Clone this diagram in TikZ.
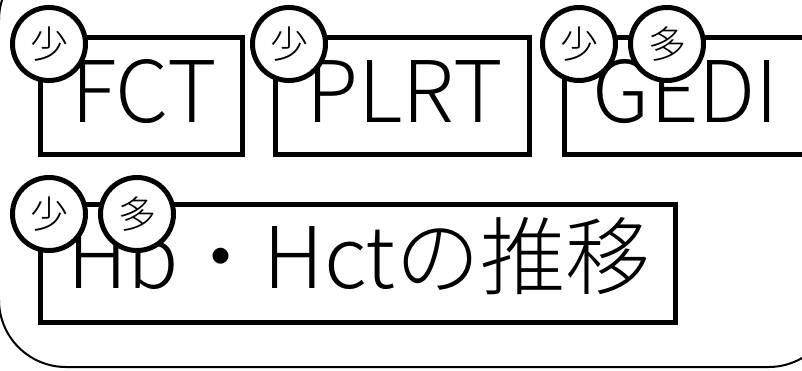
\documentclass[tikz,border=0pt]{standalone}
\usepackage{fontspec}
\setmainfont{Noto Sans CJK JP}[UprightFont=* Light]
\begin{document}
\begin{tikzpicture}[x=1pt,y=-1pt,
  box/.style={draw, line width=5pt, rectangle, inner sep=0pt},
  badge/.style={circle, draw, line width=5pt, fill=white, minimum size=73pt, inner sep=0pt, font=\fontsize{38}{38}\selectfont},
  bigtext/.style={font=\fontsize{85}{85}\selectfont, inner sep=0pt, anchor=base},
  outerframe/.style={draw, line width=2pt, rounded corners=67pt}
]
\clip (0,0) rectangle (802,370);
\fill[white] (0,0) rectangle (802,370);
% outer frame
\draw[outerframe] (-1,-47) rectangle (835.5,367);
% boxes
\node[box, minimum width=202pt, minimum height=117pt] (fct) at (141.5,96) {};
\node[box, minimum width=254pt, minimum height=117pt] (plrt) at (402.5,96) {};
\node[box, minimum width=276pt, minimum height=117pt] (gedi) at (702.5,96) {};
\node[box, minimum width=635pt, minimum height=118pt] (hb) at (358,263.5) {};
% texts
\node[bigtext] (fcttxt) at (144,122) {FCT};
\node[bigtext] (plrttxt) at (404.5,122) {PLRT};
\node[bigtext] (geditxt) at (686,122) {GEDI};
\node[bigtext] (hbtxt) at (359,288) {Hb・Hctの推移};
% badges
\node[badge] (b1) at (49,44) {\raisebox{2pt}{少}};
\node[badge] (b2) at (289,44) {\raisebox{2pt}{少}};
\node[badge] (b3) at (579,44) {\raisebox{2pt}{少}};
\node[badge] (b4) at (667,44) {\raisebox{2pt}{多}};
\node[badge] (b5) at (49,214) {\raisebox{2pt}{少}};
\node[badge] (b6) at (137,214) {\raisebox{2pt}{多}};
\end{tikzpicture}
\end{document}
